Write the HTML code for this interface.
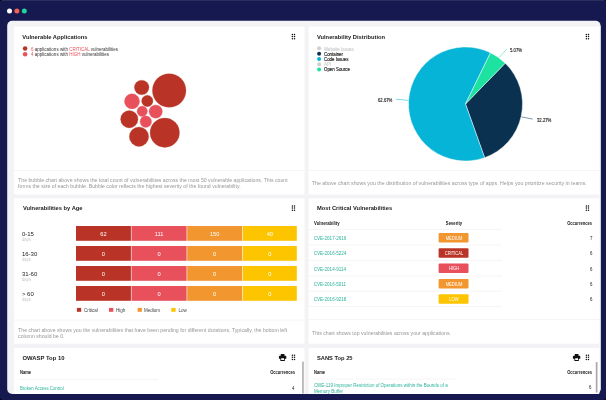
<!DOCTYPE html>
<html><head><meta charset="utf-8">
<style>
*{box-sizing:border-box;margin:0;padding:0}
html,body{width:606px;height:400px;overflow:hidden;background:#000;font-family:"Liberation Sans",sans-serif}
.frame{position:absolute;left:0;top:0;width:606px;height:400px;background:#16194f;border-radius:3px;border-top:1px solid #2b2d5f}
.t{position:absolute;white-space:nowrap;line-height:1}
</style></head><body>
<div class="frame"></div>
<div style="position:absolute;left:0;top:0;width:606px;height:400px;will-change:transform">
<svg style="position:absolute;left:0;top:0" width="606" height="400" viewBox="0 0 606 400">
<circle cx="9.50" cy="11.10" r="2.50" fill="#fff"/>
<circle cx="16.90" cy="11.10" r="2.50" fill="#f0614f"/>
<circle cx="24.30" cy="11.10" r="2.50" fill="#1ed39f"/>
<rect x="7.20" y="20.75" width="593.40" height="373.25" fill="#f3f3f6" rx="5"/>
<rect x="13.90" y="26.60" width="290.70" height="167.90" fill="#fff" rx="1.2"/>
<rect x="308.60" y="26.60" width="290.90" height="167.90" fill="#fff" rx="1.2"/>
<rect x="13.90" y="198.30" width="290.70" height="145.50" fill="#fff" rx="1.2"/>
<rect x="308.60" y="198.30" width="290.90" height="145.50" fill="#fff" rx="1.2"/>
<rect x="13.90" y="348.00" width="290.70" height="46.00" fill="#fff" rx="1.2"/>
<rect x="308.60" y="348.00" width="290.90" height="46.00" fill="#fff" rx="1.2"/>
<rect x="599.50" y="25.75" width="1.10" height="364.25" fill="#fbfbfc"/>
<circle cx="292.40" cy="34.50" r="0.75" fill="#111"/>
<circle cx="292.40" cy="36.55" r="0.75" fill="#111"/>
<circle cx="292.40" cy="38.70" r="0.75" fill="#111"/>
<circle cx="294.50" cy="34.50" r="0.75" fill="#111"/>
<circle cx="294.50" cy="36.55" r="0.75" fill="#111"/>
<circle cx="294.50" cy="38.70" r="0.75" fill="#111"/>
<circle cx="25.10" cy="48.60" r="2.25" fill="#b93427"/>
<circle cx="25.10" cy="54.30" r="2.25" fill="#e8505b"/>
<g fill="#b93427" stroke="#c04a3e" stroke-width="0.3">
<circle cx="169.2" cy="90.5" r="16.8"/><circle cx="141.7" cy="87.5" r="7.3"/><circle cx="147.3" cy="101" r="5.7"/>
<circle cx="129.3" cy="119.2" r="8.7"/><circle cx="139" cy="136.7" r="9.7"/><circle cx="164.8" cy="132.7" r="14.7"/></g>
<g fill="#e8505b" stroke="#ea6570" stroke-width="0.3">
<circle cx="132" cy="101.3" r="7.6"/><circle cx="142.2" cy="111.2" r="5.2"/><circle cx="155.7" cy="111.6" r="6.7"/><circle cx="145.8" cy="121.6" r="5.8"/></g>
<rect x="13.90" y="170.20" width="290.70" height="0.70" fill="#f1f1f4"/>
<circle cx="586.40" cy="34.50" r="0.75" fill="#111"/>
<circle cx="586.40" cy="36.55" r="0.75" fill="#111"/>
<circle cx="586.40" cy="38.70" r="0.75" fill="#111"/>
<circle cx="588.50" cy="34.50" r="0.75" fill="#111"/>
<circle cx="588.50" cy="36.55" r="0.75" fill="#111"/>
<circle cx="588.50" cy="38.70" r="0.75" fill="#111"/>
<circle cx="319.10" cy="48.35" r="2.00" fill="#cfcfcf"/>
<circle cx="319.10" cy="53.75" r="2.00" fill="#0b3150"/>
<circle cx="319.10" cy="59.00" r="2.00" fill="#05b4d6"/>
<circle cx="319.10" cy="64.25" r="2.00" fill="#cfcfcf"/>
<circle cx="319.10" cy="69.50" r="2.00" fill="#1de2a0"/>
<path d="M465.5 104L505.24 63.14A57 57 0 0 1 484.62 157.70Z" fill="#0b3150" stroke="#fff" stroke-width="0.45" stroke-linejoin="round"/>
<path d="M465.5 104L484.62 157.70A57 57 0 1 1 490.49 52.77Z" fill="#05b4d6" stroke="#fff" stroke-width="0.45" stroke-linejoin="round"/>
<path d="M465.5 104L490.49 52.77A57 57 0 0 1 505.24 63.14Z" fill="#1de2a0" stroke="#fff" stroke-width="0.45" stroke-linejoin="round"/>
<path d="M499 57.5 L506.9 49" stroke="#1de2a0" stroke-width="0.5" fill="none"/>
<path d="M521.5 116.9 L532.7 119.1" stroke="#0b3150" stroke-width="0.5" fill="none"/>
<path d="M396 99.3 L402 99.6 L408.5 100.6" stroke="#05b4d6" stroke-width="0.5" fill="none"/>
<rect x="308.60" y="170.20" width="290.90" height="0.70" fill="#f1f1f4"/>
<circle cx="292.40" cy="206.00" r="0.75" fill="#111"/>
<circle cx="292.40" cy="208.05" r="0.75" fill="#111"/>
<circle cx="292.40" cy="210.20" r="0.75" fill="#111"/>
<circle cx="294.50" cy="206.00" r="0.75" fill="#111"/>
<circle cx="294.50" cy="208.05" r="0.75" fill="#111"/>
<circle cx="294.50" cy="210.20" r="0.75" fill="#111"/>
<rect x="76.00" y="226.00" width="54.90" height="14.80" fill="#b93427"/>
<rect x="131.50" y="226.00" width="55.10" height="14.80" fill="#e8505b"/>
<rect x="187.20" y="226.00" width="55.00" height="14.80" fill="#f29630"/>
<rect x="242.80" y="226.00" width="54.00" height="14.80" fill="#fdc400"/>
<rect x="76.00" y="246.00" width="54.90" height="14.80" fill="#b93427"/>
<rect x="131.50" y="246.00" width="55.10" height="14.80" fill="#e8505b"/>
<rect x="187.20" y="246.00" width="55.00" height="14.80" fill="#f29630"/>
<rect x="242.80" y="246.00" width="54.00" height="14.80" fill="#fdc400"/>
<rect x="76.00" y="266.00" width="54.90" height="14.80" fill="#b93427"/>
<rect x="131.50" y="266.00" width="55.10" height="14.80" fill="#e8505b"/>
<rect x="187.20" y="266.00" width="55.00" height="14.80" fill="#f29630"/>
<rect x="242.80" y="266.00" width="54.00" height="14.80" fill="#fdc400"/>
<rect x="76.00" y="286.00" width="54.90" height="14.80" fill="#b93427"/>
<rect x="131.50" y="286.00" width="55.10" height="14.80" fill="#e8505b"/>
<rect x="187.20" y="286.00" width="55.00" height="14.80" fill="#f29630"/>
<rect x="242.80" y="286.00" width="54.00" height="14.80" fill="#fdc400"/>
<rect x="76.90" y="307.90" width="4.30" height="3.90" fill="#b93427"/>
<rect x="109.00" y="307.90" width="4.30" height="3.90" fill="#e8505b"/>
<rect x="137.60" y="307.90" width="4.30" height="3.90" fill="#f29630"/>
<rect x="171.30" y="307.90" width="4.30" height="3.90" fill="#fdc400"/>
<rect x="13.90" y="319.70" width="290.70" height="0.70" fill="#f1f1f4"/>
<circle cx="586.40" cy="206.00" r="0.75" fill="#111"/>
<circle cx="586.40" cy="208.05" r="0.75" fill="#111"/>
<circle cx="586.40" cy="210.20" r="0.75" fill="#111"/>
<circle cx="588.50" cy="206.00" r="0.75" fill="#111"/>
<circle cx="588.50" cy="208.05" r="0.75" fill="#111"/>
<circle cx="588.50" cy="210.20" r="0.75" fill="#111"/>
<rect x="309.00" y="229.25" width="193.00" height="0.90" fill="#f4f4f6"/>
<rect x="309.00" y="244.65" width="193.00" height="0.90" fill="#f4f4f6"/>
<rect x="309.00" y="260.05" width="193.00" height="0.90" fill="#f4f4f6"/>
<rect x="309.00" y="275.45" width="193.00" height="0.90" fill="#f4f4f6"/>
<rect x="309.00" y="290.75" width="193.00" height="0.90" fill="#f4f4f6"/>
<rect x="309.00" y="305.95" width="193.00" height="0.90" fill="#f4f4f6"/>
<rect x="438.60" y="233.00" width="29.90" height="9.50" fill="#f29630" rx="1"/>
<rect x="438.60" y="248.30" width="29.90" height="9.50" fill="#b93427" rx="1"/>
<rect x="438.60" y="263.60" width="29.90" height="9.50" fill="#e8505b" rx="1"/>
<rect x="438.60" y="278.90" width="29.90" height="9.50" fill="#f29630" rx="1"/>
<rect x="438.60" y="294.20" width="29.90" height="9.50" fill="#fdc400" rx="1"/>
<rect x="308.60" y="319.30" width="290.90" height="0.70" fill="#f1f1f4"/>
<g transform="translate(278.9 353.9) scale(0.3700 0.3684)"><path fill="#111" fill-rule="evenodd" d="M5 0H15V5H5Z M2.5 5H17.5Q20 5 20 7.5V13.5H16V19H4V13.5H0V7.5Q0 5 2.5 5Z M6.2 11.5H13.8V16.8H6.2Z"/></g>
<circle cx="292.40" cy="355.20" r="0.75" fill="#111"/>
<circle cx="292.40" cy="357.25" r="0.75" fill="#111"/>
<circle cx="292.40" cy="359.40" r="0.75" fill="#111"/>
<circle cx="294.50" cy="355.20" r="0.75" fill="#111"/>
<circle cx="294.50" cy="357.25" r="0.75" fill="#111"/>
<circle cx="294.50" cy="359.40" r="0.75" fill="#111"/>
<rect x="19.00" y="379.10" width="139.00" height="1.00" fill="#f5f5f7"/>
<rect x="302.20" y="361.50" width="1.50" height="32.30" fill="#a9a9a9" rx="0.7"/>
<g transform="translate(572.9 353.9) scale(0.3700 0.3684)"><path fill="#111" fill-rule="evenodd" d="M5 0H15V5H5Z M2.5 5H17.5Q20 5 20 7.5V13.5H16V19H4V13.5H0V7.5Q0 5 2.5 5Z M6.2 11.5H13.8V16.8H6.2Z"/></g>
<circle cx="586.40" cy="355.20" r="0.75" fill="#111"/>
<circle cx="586.40" cy="357.25" r="0.75" fill="#111"/>
<circle cx="586.40" cy="359.40" r="0.75" fill="#111"/>
<circle cx="588.50" cy="355.20" r="0.75" fill="#111"/>
<circle cx="588.50" cy="357.25" r="0.75" fill="#111"/>
<circle cx="588.50" cy="359.40" r="0.75" fill="#111"/>
<rect x="313.00" y="378.60" width="142.00" height="1.00" fill="#f6f6f8"/>
<rect x="595.80" y="361.90" width="1.70" height="30.70" fill="#a9a9a9" rx="0.7"/>
</svg>
<div class="t" style="left:22.30px;top:35px;font-size:5.75px;color:#1a1a1a;font-weight:bold;">Vulnerable Applications</div>
<div class="t" style="left:31.10px;top:48px;font-size:4.5px;color:#333;"><span style="color:#e8505b">6</span> applications with <span style="color:#e8505b">CRITICAL</span> vulnerabilities</div>
<div class="t" style="left:31.10px;top:53px;font-size:4.5px;color:#333;"><span style="color:#e8505b">4</span> applications with <span style="color:#e8505b">HIGH</span> vulnerabilities</div>
<div class="t" style="left:18.10px;top:178px;font-size:5.2px;color:#979797;">The bubble chart above shows the total count of vulnerabilities across the most 50 vulnerable applications. This count</div>
<div class="t" style="left:18.10px;top:184px;font-size:5.2px;color:#979797;">forms the size of each bubble. Bubble color reflects the highest severity of the found vulnerability.</div>
<div class="t" style="left:316.90px;top:35px;font-size:5.75px;color:#1a1a1a;font-weight:bold;">Vulnerability Distribution</div>
<div class="t" style="left:324.00px;top:48px;font-size:4.45px;color:#cfcfcf;transform:scaleX(0.9888);transform-origin:0 0;-webkit-text-stroke:0.15px #cfcfcf;">Website Issues</div>
<div class="t" style="left:324.00px;top:53px;font-size:4.45px;color:#222;transform:scaleX(0.9888);transform-origin:0 0;-webkit-text-stroke:0.15px #222;">Container</div>
<div class="t" style="left:324.00px;top:58px;font-size:4.45px;color:#222;transform:scaleX(0.9888);transform-origin:0 0;-webkit-text-stroke:0.15px #222;">Code Issues</div>
<div class="t" style="left:324.00px;top:63px;font-size:4.45px;color:#cfcfcf;transform:scaleX(0.9888);transform-origin:0 0;-webkit-text-stroke:0.15px #cfcfcf;">API</div>
<div class="t" style="left:324.00px;top:68px;font-size:4.45px;color:#222;transform:scaleX(0.9888);transform-origin:0 0;-webkit-text-stroke:0.15px #222;">Open Source</div>
<div class="t" style="left:510.20px;top:49px;font-size:4.45px;color:#1a1a1a;transform:scaleX(0.9551);transform-origin:0 0;-webkit-text-stroke:0.12px #1a1a1a;">5.07%</div>
<div class="t" style="left:536.50px;top:119px;font-size:4.45px;color:#1a1a1a;transform:scaleX(0.9551);transform-origin:0 0;-webkit-text-stroke:0.12px #1a1a1a;">32.27%</div>
<div class="t" style="left:377.90px;top:99px;font-size:4.45px;color:#1a1a1a;transform:scaleX(0.9551);transform-origin:0 0;-webkit-text-stroke:0.12px #1a1a1a;">62.67%</div>
<div class="t" style="left:311.80px;top:181px;font-size:5.24px;color:#979797;">The above chart shows you the distribution of vulnerabilities across type of apps. Helps you prioritize security in teams.</div>
<div class="t" style="left:22.90px;top:206px;font-size:5.75px;color:#1a1a1a;font-weight:bold;">Vulnerabilities by Age</div>
<div class="t" style="left:21.90px;top:231px;font-size:6.0px;color:#222;">0-15</div>
<div class="t" style="left:21.60px;top:238px;font-size:4.45px;color:#c6c6c6;transform:scaleX(0.9438);transform-origin:0 0;">days</div>
<div class="t" style="left:53.45px;width:100px;top:232px;font-size:5.7px;color:#fff;text-align:center;">62</div>
<div class="t" style="left:109.05px;width:100px;top:232px;font-size:5.7px;color:#fff;text-align:center;">111</div>
<div class="t" style="left:164.70px;width:100px;top:232px;font-size:5.7px;color:#fff;text-align:center;">150</div>
<div class="t" style="left:219.80px;width:100px;top:232px;font-size:5.7px;color:#fff;text-align:center;">40</div>
<div class="t" style="left:21.90px;top:251px;font-size:6.0px;color:#222;">16-30</div>
<div class="t" style="left:21.60px;top:258px;font-size:4.45px;color:#c6c6c6;transform:scaleX(0.9438);transform-origin:0 0;">days</div>
<div class="t" style="left:53.45px;width:100px;top:252px;font-size:5.7px;color:#fff;text-align:center;">0</div>
<div class="t" style="left:109.05px;width:100px;top:252px;font-size:5.7px;color:#fff;text-align:center;">0</div>
<div class="t" style="left:164.70px;width:100px;top:252px;font-size:5.7px;color:#fff;text-align:center;">0</div>
<div class="t" style="left:219.80px;width:100px;top:252px;font-size:5.7px;color:#fff;text-align:center;">0</div>
<div class="t" style="left:21.90px;top:271px;font-size:6.0px;color:#222;">31-60</div>
<div class="t" style="left:21.60px;top:278px;font-size:4.45px;color:#c6c6c6;transform:scaleX(0.9438);transform-origin:0 0;">days</div>
<div class="t" style="left:53.45px;width:100px;top:272px;font-size:5.7px;color:#fff;text-align:center;">0</div>
<div class="t" style="left:109.05px;width:100px;top:272px;font-size:5.7px;color:#fff;text-align:center;">0</div>
<div class="t" style="left:164.70px;width:100px;top:272px;font-size:5.7px;color:#fff;text-align:center;">0</div>
<div class="t" style="left:219.80px;width:100px;top:272px;font-size:5.7px;color:#fff;text-align:center;">0</div>
<div class="t" style="left:21.90px;top:291px;font-size:6.0px;color:#222;">&gt; 60</div>
<div class="t" style="left:21.60px;top:298px;font-size:4.45px;color:#c6c6c6;transform:scaleX(0.9438);transform-origin:0 0;">days</div>
<div class="t" style="left:53.45px;width:100px;top:292px;font-size:5.7px;color:#fff;text-align:center;">0</div>
<div class="t" style="left:109.05px;width:100px;top:292px;font-size:5.7px;color:#fff;text-align:center;">0</div>
<div class="t" style="left:164.70px;width:100px;top:292px;font-size:5.7px;color:#fff;text-align:center;">0</div>
<div class="t" style="left:219.80px;width:100px;top:292px;font-size:5.7px;color:#fff;text-align:center;">0</div>
<div class="t" style="left:84.00px;top:309px;font-size:4.5px;color:#444;">Critical</div>
<div class="t" style="left:116.10px;top:309px;font-size:4.5px;color:#444;">High</div>
<div class="t" style="left:144.00px;top:309px;font-size:4.5px;color:#444;">Medium</div>
<div class="t" style="left:178.40px;top:309px;font-size:4.5px;color:#444;">Low</div>
<div class="t" style="left:18.10px;top:328px;font-size:5.2px;color:#979797;">The chart above shows you the vulnerabilities that have been pending for different durations. Typically, the bottom left</div>
<div class="t" style="left:18.10px;top:334px;font-size:5.2px;color:#979797;">column should be 0.</div>
<div class="t" style="left:316.90px;top:206px;font-size:5.75px;color:#1a1a1a;font-weight:bold;">Most Critical Vulnerabilities</div>
<div class="t" style="left:313.70px;top:222px;font-size:4.45px;color:#1a1a1a;font-weight:bold;transform:scaleX(0.9663);transform-origin:0 0;">Vulnerability</div>
<div class="t" style="left:403.70px;width:100px;top:222px;font-size:4.45px;color:#1a1a1a;font-weight:bold;text-align:center;transform:scaleX(0.9438);transform-origin:50% 0;">Severity</div>
<div class="t" style="right:13.60px;top:222px;font-size:4.45px;color:#1a1a1a;font-weight:bold;text-align:right;transform:scaleX(0.9213);transform-origin:100% 0;">Occurrences</div>
<div class="t" style="left:313.70px;top:237px;font-size:4.55px;color:#2bb39a;">CVE-2017-2616</div>
<div class="t" style="left:403.55px;width:100px;top:237px;font-size:4.45px;color:#fff;text-align:center;transform:scaleX(0.9213);transform-origin:50% 0;">MEDIUM</div>
<div class="t" style="right:13.80px;top:237px;font-size:4.45px;color:#1a1a1a;text-align:right;transform:scaleX(0.9888);transform-origin:100% 0;">7</div>
<div class="t" style="left:313.70px;top:252px;font-size:4.55px;color:#2bb39a;">CVE-2016-5224</div>
<div class="t" style="left:403.55px;width:100px;top:252px;font-size:4.45px;color:#fff;text-align:center;transform:scaleX(0.9213);transform-origin:50% 0;">CRITICAL</div>
<div class="t" style="right:13.80px;top:252px;font-size:4.45px;color:#1a1a1a;text-align:right;transform:scaleX(0.9888);transform-origin:100% 0;">6</div>
<div class="t" style="left:313.70px;top:268px;font-size:4.55px;color:#2bb39a;">CVE-2014-9114</div>
<div class="t" style="left:403.55px;width:100px;top:267px;font-size:4.45px;color:#fff;text-align:center;transform:scaleX(0.9213);transform-origin:50% 0;">HIGH</div>
<div class="t" style="right:13.80px;top:268px;font-size:4.45px;color:#1a1a1a;text-align:right;transform:scaleX(0.9888);transform-origin:100% 0;">6</div>
<div class="t" style="left:313.70px;top:283px;font-size:4.55px;color:#2bb39a;">CVE-2016-5011</div>
<div class="t" style="left:403.55px;width:100px;top:283px;font-size:4.45px;color:#fff;text-align:center;transform:scaleX(0.9213);transform-origin:50% 0;">MEDIUM</div>
<div class="t" style="right:13.80px;top:283px;font-size:4.45px;color:#1a1a1a;text-align:right;transform:scaleX(0.9888);transform-origin:100% 0;">6</div>
<div class="t" style="left:313.70px;top:298px;font-size:4.55px;color:#2bb39a;">CVE-2016-9218</div>
<div class="t" style="left:403.55px;width:100px;top:298px;font-size:4.45px;color:#fff;text-align:center;transform:scaleX(0.9213);transform-origin:50% 0;">LOW</div>
<div class="t" style="right:13.80px;top:298px;font-size:4.45px;color:#1a1a1a;text-align:right;transform:scaleX(0.9888);transform-origin:100% 0;">6</div>
<div class="t" style="left:312.00px;top:331px;font-size:5.2px;color:#979797;">This chart shows top vulnerabilities across your applications.</div>
<div class="t" style="left:22.50px;top:356px;font-size:5.9px;color:#1a1a1a;font-weight:bold;">OWASP Top 10</div>
<div class="t" style="left:19.90px;top:371px;font-size:4.45px;color:#1a1a1a;font-weight:bold;transform:scaleX(0.9213);transform-origin:0 0;">Name</div>
<div class="t" style="right:311.30px;top:371px;font-size:4.45px;color:#1a1a1a;font-weight:bold;text-align:right;transform:scaleX(0.9213);transform-origin:100% 0;">Occurrences</div>
<div class="t" style="left:19.90px;top:387px;font-size:4.45px;color:#2bb39a;transform:scaleX(0.9730);transform-origin:0 0;">Broken Access Control</div>
<div class="t" style="right:311.50px;top:387px;font-size:4.45px;color:#1a1a1a;text-align:right;transform:scaleX(0.9888);transform-origin:100% 0;">4</div>
<div class="t" style="left:316.90px;top:356px;font-size:5.75px;color:#1a1a1a;font-weight:bold;">SANS Top 25</div>
<div class="t" style="left:313.90px;top:371px;font-size:4.45px;color:#1a1a1a;font-weight:bold;transform:scaleX(0.9213);transform-origin:0 0;">Name</div>
<div class="t" style="right:14.30px;top:371px;font-size:4.45px;color:#1a1a1a;font-weight:bold;text-align:right;transform:scaleX(0.9213);transform-origin:100% 0;">Occurrences</div>
<div class="t" style="left:313.90px;top:384px;font-size:4.48px;color:#2bb39a;">CWE-119 Improper Restriction of Operations within the Bounds of a</div>
<div class="t" style="left:313.90px;top:390px;font-size:4.48px;color:#2bb39a;">Memory Buffer</div>
<div class="t" style="right:14.30px;top:386px;font-size:4.45px;color:#1a1a1a;text-align:right;transform:scaleX(0.9888);transform-origin:100% 0;">6</div>
</div>
</body></html>
